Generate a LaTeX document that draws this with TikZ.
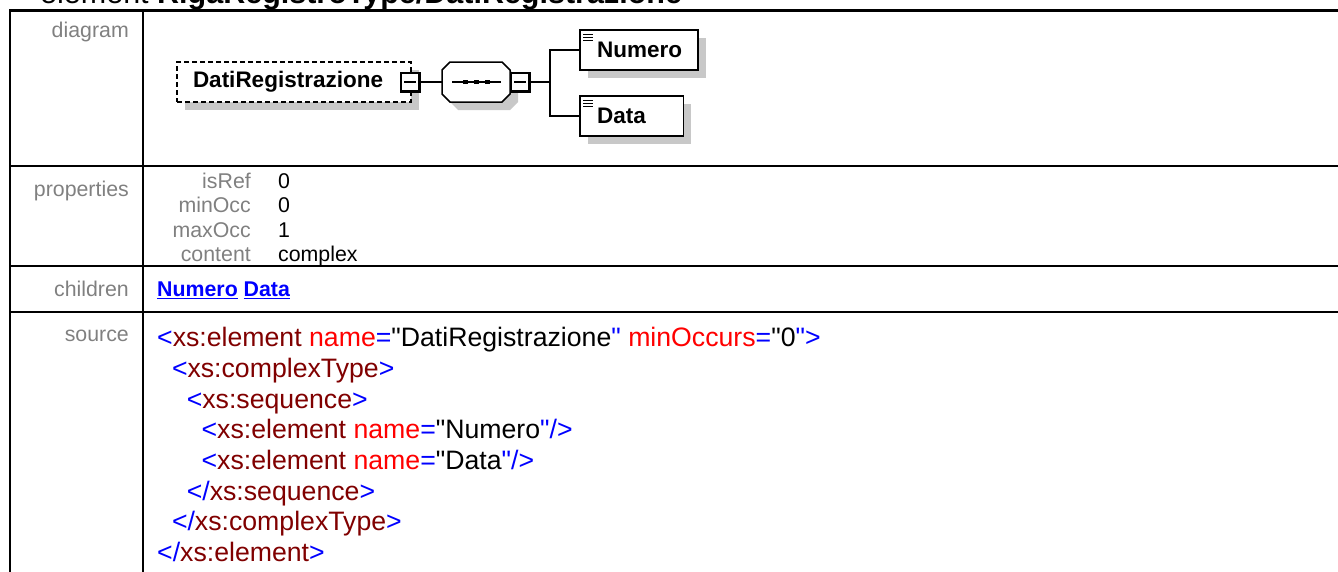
\documentclass[tikz,border=0pt]{standalone}
\usepackage{fontspec}
\setmainfont{Liberation Sans}[Ligatures=TeXOff]
\usetikzlibrary{shadows,calc}
\definecolor{xblue}{RGB}{0,0,255}
\definecolor{xmaroon}{RGB}{128,0,0}
\definecolor{xred}{RGB}{255,0,0}
\definecolor{lblgray}{RGB}{128,128,128}
\definecolor{shgray}{RGB}{200,200,200}
\newcommand{\xB}[1]{\textcolor{xblue}{#1}}
\newcommand{\xM}[1]{\textcolor{xmaroon}{#1}}
\newcommand{\xR}[1]{\textcolor{xred}{#1}}
\newcommand{\octagonpath}{(-34,-12) -- (-26,-20) -- (26,-20) -- (34,-12) -- (34,12) -- (26,20) -- (-26,20) -- (-34,12) -- cycle}
\begin{document}
\begin{tikzpicture}[x=1pt,y=-1pt,
  tline/.style={line width=2.5pt},
  lbl/.style={anchor=base east, inner sep=0pt, text=lblgray, font=\fontsize{21.33}{24.5}\selectfont},
  pval/.style={anchor=base west, inner sep=0pt, font=\fontsize{21.33}{24.5}\selectfont},
  src/.style={anchor=base west, inner sep=0pt, font=\fontsize{26.67}{30.67}\selectfont},
  elem/.style={draw, line width=1.5pt, fill=white, minimum height=40pt, align=left,
    inner xsep=17pt, inner ysep=0pt, font=\fontsize{22.5}{26}\selectfont\bfseries,
    general shadow={fill=shgray, shadow xshift=8pt, shadow yshift=-8pt}},
  leaf/.style={elem, path picture={
    \foreach \k in {0,1,2}{\draw[line width=1.2pt] ($(path picture bounding box.north west)+(3,4.5+3*\k)$) -- ++(10,0);}}},
  minusbox/.style={draw, fill=white, line width=1.2pt, minimum size=18pt, inner sep=0pt,
    path picture={\draw[line width=1.4pt] ($(path picture bounding box.west)+(3,0)$) -- ($(path picture bounding box.east)+(-3,0)$);}},
  seqshape/.style={rectangle, minimum width=68pt, minimum height=40pt, inner sep=0pt, outer sep=0pt},
  conn/.style={line width=1.5pt},
  edge3d/.style={line width=2.6pt}
]
\useasboundingbox (0,0) rectangle (1338,571);
\clip (0,0) rectangle (1338,571);

% title (cut at top)
\node[anchor=base west, inner sep=0pt, font=\fontsize{30.5}{36}\selectfont] (title) at (40,3.5)
  {element \textbf{RigaRegistroType/DatiRegistrazione}};

% table lines
\draw[tline] (10,10.5) -- (1340,10.5);
\draw[tline] (10,166) -- (1340,166);
\draw[tline] (10,266) -- (1340,266);
\draw[tline] (10,312) -- (1340,312);
\draw[tline] (10,9.25) -- (10,575);
\draw[tline] (143,9.25) -- (143,575);

% row labels
\node[lbl] (ldiag) at (129,37.5) {diagram};
\node[lbl] (lprop) at (129,196) {properties};
\node[lbl] (lchild) at (129,296.5) {children};
\node[lbl] (lsrc) at (129,341) {source};

% diagram
\node[elem, dashed, dash pattern=on 5pt off 3pt, text width=202pt, inner xsep=16pt] (dati) at (294,82) {DatiRegistrazione};
\node[minusbox] (m1) at (410,82) {};
\draw[edge3d] (m1.north east) -- (m1.south east) -- (m1.south west);
\node[seqshape] (seq) at (476,82) {};
\fill[shgray, shift={($(seq.center)+(8,8)$)}] \octagonpath;
\filldraw[fill=white, line width=1.5pt, shift={(seq.center)}] \octagonpath;
\draw[line width=1.3pt] ($(seq.center)+(-24,0)$) -- ($(seq.center)+(25,0)$);
\foreach \d in {-11,0,11}{\fill ($(seq.center)+(\d-2.5,-2)$) rectangle ++(5,4);}
\node[minusbox] (m2) at (520,82) {};
\draw[edge3d] (m2.north east) -- (m2.south east) -- (m2.south west);
\coordinate (br) at (550,82);
\node[leaf, text width=84pt] (num) at (639,50) {Numero};
\node[leaf, text width=69.3pt] (data) at (631.7,116) {Data};
\draw[conn] (m1.east) -- (seq.west);
\draw[conn] (m2.east) -- (br);
\draw[conn] (br) |- (num.west);
\draw[conn] (br) |- (data.west);

% properties
\node[lbl] (pn1) at (251,188) {isRef};
\node[pval] (pv1) at (278,188) {0};
\node[lbl] (pn2) at (251,212.5) {minOcc};
\node[pval] (pv2) at (278,212.5) {0};
\node[lbl] (pn3) at (251,237) {maxOcc};
\node[pval] (pv3) at (278,237) {1};
\node[lbl] (pn4) at (251,261.5) {content};
\node[pval] (pv4) at (278,261.5) {complex};

% children
\node[pval, text=xblue, font=\fontsize{21.33}{24.5}\selectfont\bfseries] (kids) at (157,296.5) {\underline{Numero} \underline{Data}};

% source
\node[src] (s1) at (157,346.7) {\xB{<}\xM{xs:element} \xR{name}\xB{=}"DatiRegistrazione\xB{"} \xR{minOccurs}\xB{=}"0\xB{">}};
\node[src] (s2) at (171.8,377.4) {\xB{<}\xM{xs:complexType}\xB{>}};
\node[src] (s3) at (186.6,408.1) {\xB{<}\xM{xs:sequence}\xB{>}};
\node[src] (s4) at (201.4,438.7) {\xB{<}\xM{xs:element} \xR{name}\xB{=}"Numero\xB{"/>}};
\node[src] (s5) at (201.4,469.4) {\xB{<}\xM{xs:element} \xR{name}\xB{=}"Data\xB{"/>}};
\node[src] (s6) at (186.6,500.1) {\xB{</}\xM{xs:sequence}\xB{>}};
\node[src] (s7) at (171.8,530.7) {\xB{</}\xM{xs:complexType}\xB{>}};
\node[src] (s8) at (157,561.4) {\xB{</}\xM{xs:element}\xB{>}};
\end{tikzpicture}
\end{document}
